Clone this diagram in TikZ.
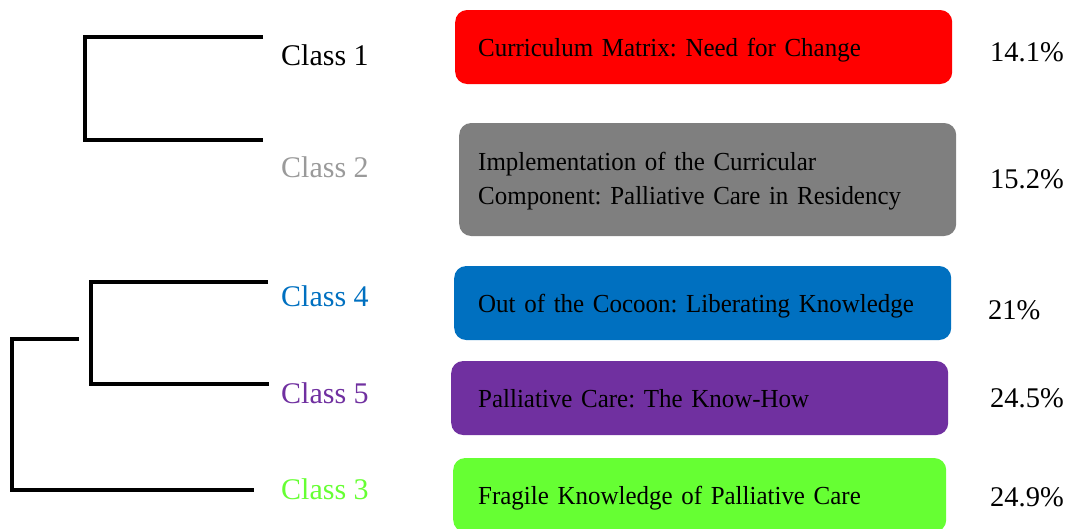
\documentclass[tikz,border=0pt]{standalone}
\usepackage{fontspec}
\setmainfont{Liberation Serif}
\newfontfamily\themefont{Liberation Serif}[FakeStretch=0.96]
\frenchspacing

\definecolor{cred}{HTML}{FF0000}
\definecolor{cgray}{HTML}{7F7F7F}
\definecolor{clight}{HTML}{9A9A9A}
\definecolor{cblue}{HTML}{0070C0}
\definecolor{cpurple}{HTML}{7030A0}
\definecolor{cgreen}{HTML}{66FF33}

% theme boxes, pad = gap between box edge and text
\tikzstyle{theme}=[draw=none, rounded corners=12pt, anchor=west, minimum height=74pt, text depth=0pt, align=left, font=\themefont\fontsize{26}{34}\selectfont]
\tikzset{pad/.style={inner xsep=#1pt, text width=497pt-2*#1pt}}
\tikzstyle{cls}=[anchor=west, inner sep=0pt, font=\fontsize{30}{36}\selectfont]
\tikzstyle{pct}=[anchor=west, inner sep=0pt, font=\fontsize{28.5}{34}\selectfont]
\tikzstyle{branch}=[line width=4pt]

\begin{document}
\begin{tikzpicture}[x=1pt, y=-1pt]
\useasboundingbox (0,0) rectangle (1070,528);

% dendrogram: leaf ends and joints
\coordinate (e1) at (263,37);
\coordinate (e2) at (263,140);
\coordinate (j12) at (85,88);
\draw[branch] (e1) -| (j12) |- (e2);

\coordinate (e4) at (268,282);
\coordinate (e5) at (269,384);
\coordinate (j45) at (91,333);
\draw[branch] (e4) -| (j45) |- (e5);

\coordinate (s45) at (79,339);
\coordinate (e3) at (254,490);
\coordinate (j3) at (12,414);
\draw[branch] (s45) -| (j3) |- (e3);

% class labels
\node[cls] (c1) at (281,55) {Class 1};
\node[cls,text=clight] (c2) at (281,167) {Class 2};
\node[cls,text=cblue] (c4) at (281,296) {Class 4};
\node[cls,text=cpurple] (c5) at (281,393) {Class 5};
\node[cls,text=cgreen] (c3) at (281,489) {Class 3};

% themes
\node[theme,pad=23,fill=cred] (t1) at (455,47) {Curriculum Matrix: Need for Change};
\node[theme,pad=19,fill=cgray,minimum height=113pt,text depth=37pt] (t2) at (459,179.5) {Implementation of the Curricular\\Component: Palliative Care in Residency};
\node[theme,pad=24,fill=cblue] (t4) at (454,303) {Out of the Cocoon: Liberating Knowledge};
\node[theme,pad=27,fill=cpurple] (t5) at (451,398) {Palliative Care: The Know-How};
\node[theme,pad=25,text width=443pt,fill=cgreen] (t3) at (453,495) {Fragile Knowledge of Palliative Care};

% percentages
\node[pct] (p1) at (990,52) {14.1\%};
\node[pct] (p2) at (990,179) {15.2\%};
\node[pct] (p4) at (988,310) {21\%};
\node[pct] (p5) at (990,398) {24.5\%};
\node[pct] (p3) at (990,497) {24.9\%};

\end{tikzpicture}
\end{document}
